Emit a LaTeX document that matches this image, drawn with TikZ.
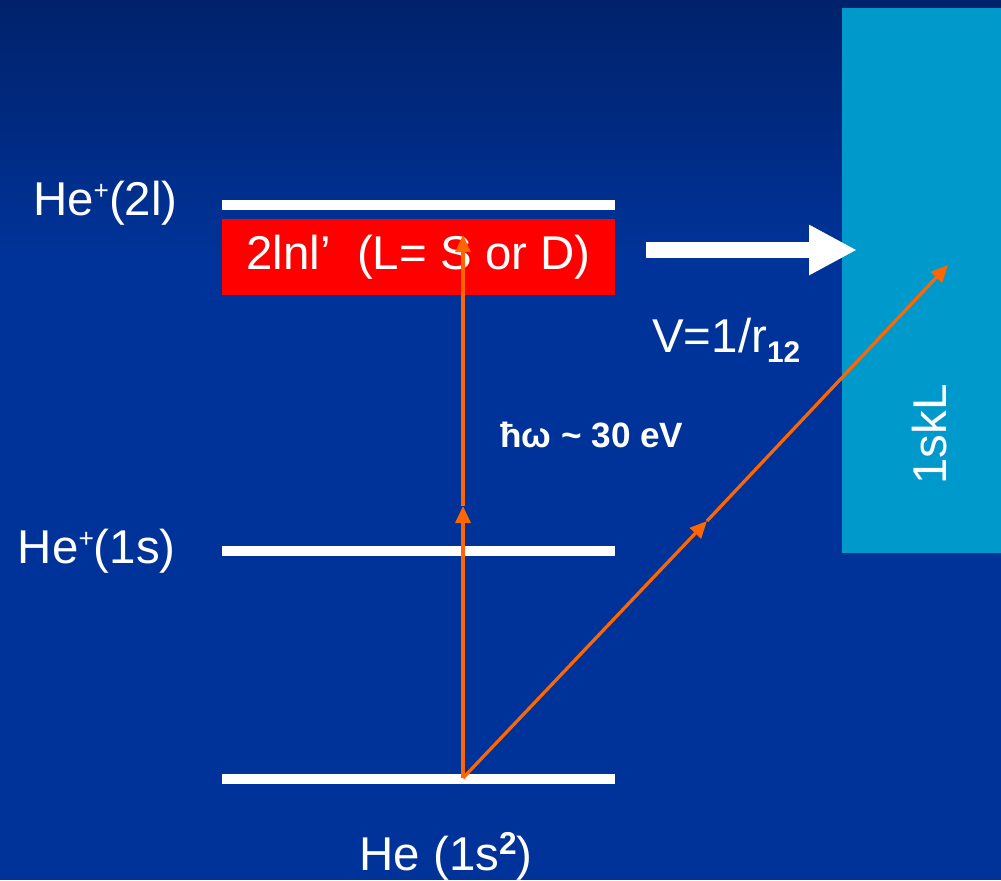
\documentclass[tikz,border=0pt]{standalone}
\usepackage{fontspec}
\setmainfont{Liberation Sans}
\usetikzlibrary{arrows.meta}

\definecolor{deepblue}{HTML}{003399}
\definecolor{topblue}{HTML}{00226B}
\definecolor{contblue}{HTML}{0099CC}
\definecolor{photonorange}{HTML}{FF6600}

\newcommand{\supsmall}[2][15]{\raisebox{9pt}{\fontsize{#1}{#1}\selectfont #2}}

\tikzset{
  every node/.style={text=white, inner sep=0pt, font=\fontsize{27}{32}\selectfont},
  level/.style={fill=white, minimum width=7.86cm, minimum height=0.2cm},
  photon/.style={draw=photonorange, line width=0.065cm, -{Triangle[length=0.34cm,width=0.3cm]}},
  bigarrow/.style={draw=white, line width=0.32cm, -{Triangle[length=0.96cm,width=0.94cm]}}
}

\begin{document}
\begin{tikzpicture}[x=0.02cm,y=-0.02cm]
  % background
  \fill[deepblue] (0,0) rectangle (1001,880);
  \shade[top color=topblue, bottom color=deepblue] (0,0) rectangle (1001,260);
  \useasboundingbox (0,0) rectangle (1001,880);
  % continuum
  \node[fill=contblue, minimum width=3.18cm, minimum height=10.9cm] (cont) at (921.5,280.5) {};
  \node[rotate=90, anchor=base west] (contlbl) at (946,485) {1skL};
  % levels
  \node[level] (he2l) at (418.5,204.5) {};
  \node[level, fill=red, minimum height=1.52cm] (dexc) at (418.5,257) {2lnl’\ \ (L= S or D)};
  \node[level] (he1s) at (418.5,551) {};
  \node[level] (hegs) at (418.5,778.5) {};
  \node[anchor=base east] (l2l) at (178,215) {He\supsmall{+}(2l)};
  \node[anchor=base east] (l1s) at (176,563) {He\supsmall{+}(1s)};
  \node[anchor=base] (lgs) at (446,870) {He (1s\supsmall[18]{\bfseries 2})};
  % photon paths
  \coordinate (start) at (463,778);
  \coordinate (vmid) at (463,506);
  \coordinate (vtip) at (463,235);
  \coordinate (dmid) at (707,521);
  \coordinate (dtip) at (948,265);
  \draw[photon] (start) -- (vmid);
  \draw[photon] (vmid) -- (vtip);
  \draw[photon] (start) -- (dmid);
  \draw[photon] (dmid) -- (dtip);
  \node[anchor=base west, font=\fontsize{20}{24}\selectfont\bfseries] (hw) at (500,447) {ħω \textasciitilde{} 30 eV};
  % autoionisation
  \coordinate (vfrom) at (646,250);
  \coordinate (vto) at (857,250);
  \draw[bigarrow] (vfrom) -- (vto);
  \node[anchor=base west] (pot) at (652,352) {V=1/r\raisebox{-6pt}{\fontsize{17}{17}\selectfont\bfseries 12}};
\end{tikzpicture}
\end{document}
